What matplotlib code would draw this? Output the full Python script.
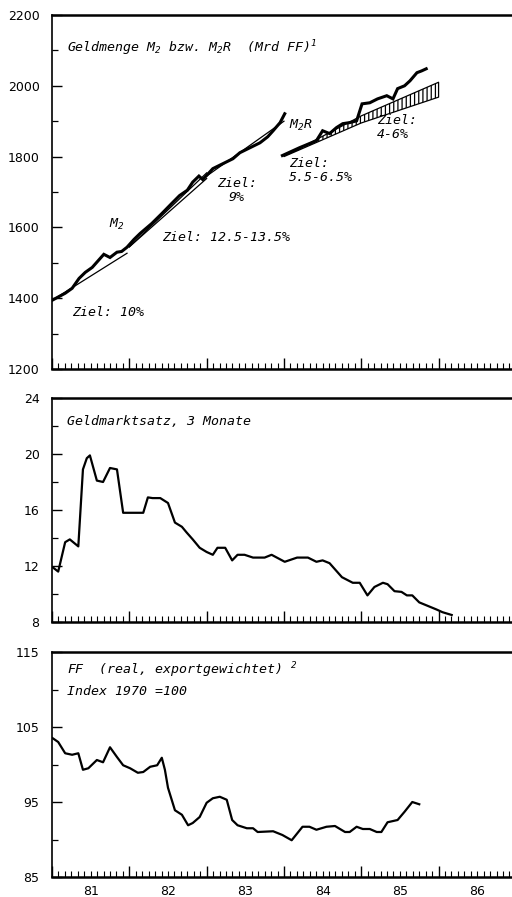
import matplotlib
matplotlib.use("Agg")
import matplotlib.pyplot as plt
from matplotlib.ticker import MultipleLocator, FixedLocator

plt.rcParams['font.family'] = ['DejaVu Sans']
plt.rcParams['mathtext.fontset'] = 'custom'
plt.rcParams['mathtext.rm'] = 'DejaVu Sans Mono:oblique'
plt.rcParams['mathtext.it'] = 'DejaVu Sans Mono:oblique'
plt.rcParams['hatch.linewidth'] = 0.9

# --- Geldmenge M2 (Mrd FF) ---
m2_years = [1981.00, 1981.17, 1981.26, 1981.35, 1981.43, 1981.52, 1981.67, 1981.75,
            1981.84, 1981.90, 1981.97, 1982.06, 1982.14, 1982.29, 1982.42, 1982.55,
            1982.65, 1982.75, 1982.82, 1982.90, 1982.95, 1983.08, 1983.21, 1983.34,
            1983.43, 1983.56, 1983.69, 1983.79, 1983.86, 1983.95, 1984.01]
m2_values = [1394, 1414, 1428, 1456, 1473, 1487, 1524, 1515,
             1530, 1532, 1544, 1566, 1583, 1611, 1639, 1668,
             1690, 1705, 1728, 1745, 1735, 1766, 1780, 1794,
             1811, 1825, 1839, 1856, 1873, 1896, 1921]

# --- Geldmenge M2R ---
m2r_years = [1983.98, 1984.20, 1984.42, 1984.50, 1984.59, 1984.68, 1984.76, 1984.85,
             1984.94, 1985.01, 1985.11, 1985.21, 1985.33, 1985.41, 1985.47, 1985.56,
             1985.63, 1985.72, 1985.78, 1985.84]
m2r_values = [1803, 1825, 1845, 1873, 1865, 1882, 1893, 1896,
              1901, 1949, 1952, 1963, 1972, 1963, 1992, 2000,
              2014, 2037, 2042, 2048]

# target lines (Ziel)
ziel10_years = [1981.0, 1981.97]
ziel10_values = [1394, 1527]
ziel82_years = [1982.0, 1983.0]
ziel82_low = [1545, 1738]
ziel82_high = [1545, 1754]
ziel9_years = [1983.0, 1984.0]
ziel9_values = [1745, 1900]
ziel85_years = [1984.0, 1985.0, 1986.0]
ziel85_low = [1800, 1895, 1968]
ziel85_high = [1800, 1915, 2010]

# --- Geldmarktsatz, 3 Monate ---
rate_years = [1981.01, 1981.08, 1981.17, 1981.23, 1981.34, 1981.40, 1981.45, 1981.49,
              1981.58, 1981.66, 1981.75, 1981.84, 1981.92, 1982.05, 1982.18, 1982.24,
              1982.30, 1982.40, 1982.50, 1982.59, 1982.68, 1982.74, 1982.82, 1982.91,
              1983.00, 1983.08, 1983.14, 1983.24, 1983.33, 1983.40, 1983.49, 1983.60,
              1983.75, 1983.84, 1984.01, 1984.17, 1984.31, 1984.42, 1984.50, 1984.59,
              1984.75, 1984.89, 1984.98, 1985.08, 1985.17, 1985.28, 1985.34, 1985.43,
              1985.52, 1985.59, 1985.66, 1985.75, 1985.97, 1986.05, 1986.17]
rate_values = [11.9, 11.6, 13.7, 13.9, 13.4, 18.9, 19.7, 19.9,
               18.1, 18.0, 19.0, 18.9, 15.8, 15.8, 15.8, 16.9,
               16.85, 16.85, 16.5, 15.1, 14.8, 14.4, 13.9, 13.3,
               13.0, 12.8, 13.3, 13.3, 12.4, 12.8, 12.8, 12.6,
               12.6, 12.8, 12.3, 12.6, 12.6, 12.3, 12.4, 12.2,
               11.2, 10.8, 10.8, 9.9, 10.5, 10.8, 10.7, 10.2,
               10.15, 9.9, 9.9, 9.4, 8.9, 8.7, 8.5]

# --- FF real, exportgewichtet (Index 1970 = 100) ---
ff_years = [1981.01, 1981.08, 1981.17, 1981.26, 1981.34, 1981.40, 1981.47, 1981.58,
            1981.66, 1981.75, 1981.84, 1981.92, 1982.01, 1982.11, 1982.18, 1982.27,
            1982.36, 1982.42, 1982.46, 1982.50, 1982.59, 1982.68, 1982.76, 1982.82,
            1982.91, 1983.00, 1983.08, 1983.17, 1983.26, 1983.33, 1983.40, 1983.52,
            1983.60, 1983.66, 1983.86, 1983.98, 1984.10, 1984.24, 1984.33, 1984.42,
            1984.55, 1984.66, 1984.79, 1984.85, 1984.94, 1985.02, 1985.11, 1985.20,
            1985.26, 1985.34, 1985.47, 1985.56, 1985.66, 1985.75]
ff_values = [103.5, 103.0, 101.5, 101.3, 101.5, 99.3, 99.5, 100.6,
             100.3, 102.3, 101.0, 99.9, 99.5, 98.9, 99.0, 99.7,
             99.9, 100.9, 99.3, 96.9, 93.9, 93.3, 91.9, 92.2,
             93.0, 94.9, 95.5, 95.7, 95.3, 92.6, 91.9, 91.5,
             91.5, 91.0, 91.1, 90.6, 89.9, 91.7, 91.7, 91.3,
             91.7, 91.8, 91.0, 91.0, 91.7, 91.4, 91.4, 91.0,
             91.0, 92.3, 92.6, 93.7, 95.0, 94.7]

year_labels = ["81", "82", "83", "84", "85", "86"]
ff_ticks = [85, 95, 105, 115]
ff_minor = [90, 100, 110]

TXT = dict(family="DejaVu Sans Mono", style="oblique", fontsize=9.5, color="black")


def style_axes(ax, ylim, major, minor, show_labels=False):
    ax.set_xlim(1981, 1987)
    ax.set_ylim(*ylim)
    ax.set_xticks(range(1981, 1988))
    ax.set_xticklabels([])
    ax.xaxis.set_minor_locator(MultipleLocator(1 / 12))
    if isinstance(major, list):
        ax.yaxis.set_major_locator(FixedLocator(major))
        ax.yaxis.set_minor_locator(FixedLocator(minor))
    else:
        ax.yaxis.set_major_locator(MultipleLocator(major))
        ax.yaxis.set_minor_locator(MultipleLocator(minor))
    ax.tick_params(axis="x", which="major", direction="in", length=8, width=1.0)
    ax.tick_params(axis="x", which="minor", direction="in", length=4, width=0.8)
    ax.tick_params(axis="y", which="major", direction="in", length=7, width=1.0,
                   labelsize=9, pad=9)
    ax.tick_params(axis="y", which="minor", direction="in", length=4, width=0.9)
    ax.spines["right"].set_visible(False)
    ax.spines["top"].set_linewidth(1.8)
    ax.spines["bottom"].set_linewidth(1.8)
    ax.spines["left"].set_linewidth(1.2)
    if show_labels:
        for i, lab in enumerate(year_labels):
            ax.text(1981.5 + i, -0.035, lab, transform=ax.get_xaxis_transform(),
                    ha="center", va="top", fontsize=9)


fig = plt.figure(figsize=(5.12, 8.97), dpi=100)
ax1 = fig.add_axes([0.1016, 0.5886, 0.906, 0.3947])
ax2 = fig.add_axes([0.1016, 0.3066, 0.906, 0.2497])
ax3 = fig.add_axes([0.1016, 0.0223, 0.906, 0.2508])

# top panel
style_axes(ax1, (1200, 2200), 200, 100)
ax1.plot(ziel10_years, ziel10_values, color="black", lw=0.9)
ax1.plot(ziel82_years, ziel82_low, color="black", lw=0.9)
ax1.plot(ziel82_years, ziel82_high, color="black", lw=0.9)
ax1.plot(ziel9_years, ziel9_values, color="black", lw=0.9)
ax1.fill_between(ziel85_years, ziel85_low, ziel85_high, facecolor="white",
                 edgecolor="black", hatch="||||", lw=0.9)
ax1.plot(m2_years, m2_values, color="black", lw=2.2, solid_joinstyle="miter")
ax1.plot(m2r_years, m2r_values, color="black", lw=2.2, solid_joinstyle="miter")
ax1.text(1981.19, 2107, r"Geldmenge M$_2$ bzw. M$_2$R  (Mrd FF)$^1$", va="center", **TXT)
ax1.text(1981.84, 1608, r"M$_2$", ha="center", va="center", **TXT)
ax1.text(1981.26, 1361, "Ziel: 10%", va="center", **TXT)
ax1.text(1982.42, 1572, "Ziel: 12.5-13.5%", va="center", **TXT)
ax1.text(1983.39, 1704, "Ziel:\n9%", ha="center", va="center", linespacing=1.1, **TXT)
ax1.text(1984.07, 1887, r"M$_2$R", va="center", **TXT)
ax1.text(1984.07, 1761, "Ziel:\n5.5-6.5%", va="center", linespacing=1.1, **TXT)
ax1.text(1985.2, 1882, "Ziel:\n4-6%", va="center", linespacing=1.1, **TXT)

# middle panel
style_axes(ax2, (8, 24), 4, 2)
ax2.plot(rate_years, rate_values, color="black", lw=1.6)
ax2.text(1981.19, 22.3, "Geldmarktsatz, 3 Monate", va="center", **TXT)

# bottom panel
style_axes(ax3, (85, 115), ff_ticks, ff_minor, show_labels=True)
ax3.plot(ff_years, ff_values, color="black", lw=1.6)
ax3.text(1981.19, 112.6, r"FF  (real, exportgewichtet) $^2$", va="center", **TXT)
ax3.text(1981.19, 109.7, "Index 1970 =100", va="center", **TXT)

fig.savefig("out.png", dpi=100)
plt.close(fig)
